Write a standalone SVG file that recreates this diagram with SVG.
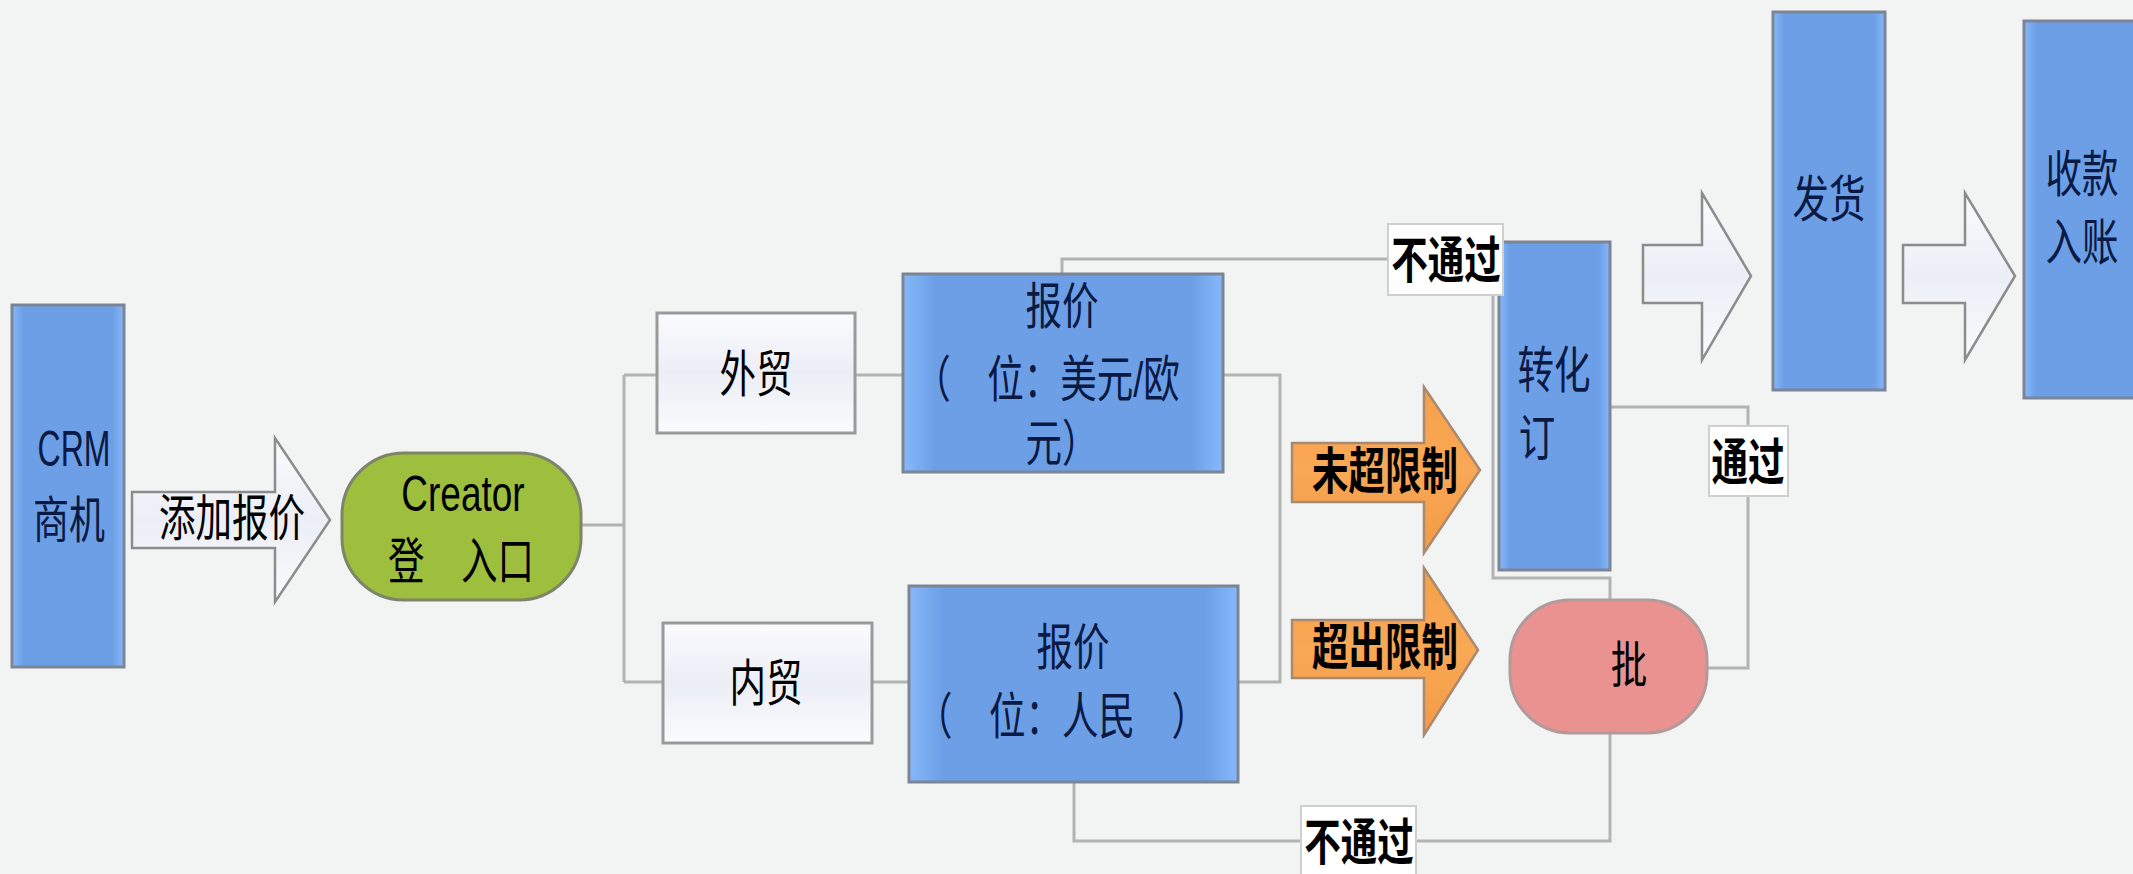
<svg xmlns="http://www.w3.org/2000/svg" width="2133" height="874" viewBox="0 0 2133 874">
<defs>
<linearGradient id="gBlue" x1="0" y1="0" x2="1" y2="0">
<stop offset="0" stop-color="#86b8fa"/><stop offset="0.1" stop-color="#6c9fe6"/><stop offset="0.9" stop-color="#6c9fe6"/><stop offset="1" stop-color="#86b8fa"/>
</linearGradient>
<linearGradient id="gWhite" x1="0" y1="0" x2="0" y2="1">
<stop offset="0" stop-color="#fbfbfe"/><stop offset="0.5" stop-color="#eceef6"/><stop offset="1" stop-color="#fafbfd"/>
</linearGradient>
<linearGradient id="gOrange" x1="0" y1="0" x2="0" y2="1">
<stop offset="0" stop-color="#f6a04a"/><stop offset="0.5" stop-color="#f9a856"/><stop offset="1" stop-color="#f39a45"/>
</linearGradient>
<style>
.bg{fill:#f2f3f3}
.conn{fill:none;stroke:#b3b3b3;stroke-width:3}
.blue{fill:url(#gBlue);stroke:#7c8596;stroke-width:3}
.wbox{fill:url(#gWhite);stroke:#9a9a9a;stroke-width:3}
.warrow{fill:url(#gWhite);stroke:#8c8c8c;stroke-width:2.5}
.oarrow{fill:url(#gOrange);stroke:#a98a70;stroke-width:2.5}
.green{fill:#9dbf3d;stroke:#7d8569;stroke-width:3}
.pink{fill:#e9928f;stroke:#b39a9a;stroke-width:3}
.lbl{fill:#ffffff;stroke:#cfcfcf;stroke-width:2}
.t{font-family:"Liberation Sans","Noto Sans CJK SC",sans-serif;font-size:50px;text-anchor:middle;dominant-baseline:central;fill:#000}
.tb{fill:#0b1a44}
.bold{font-weight:bold}
</style>
</defs>
<rect class="bg" x="0" y="0" width="2133" height="874"/>

<g id="connectors">
<path class="conn" d="M581,525 H624"/>
<path class="conn" d="M624,375 V682"/>
<path class="conn" d="M624,375 H657"/>
<path class="conn" d="M624,682 H663"/>
<path class="conn" d="M855,375 H903"/>
<path class="conn" d="M872,682 H909"/>
<path class="conn" d="M1223,375 H1280 V682 H1238"/>
<path class="conn" d="M1062,274 V259 H1493 V578 H1610 V600"/>
<path class="conn" d="M1610,407 H1748 V668 H1707"/>
<path class="conn" d="M1074,782 V841 H1610 V733"/>
</g>

<g id="crm">
<rect class="blue" x="12" y="305" width="112" height="362"/>
<text class="t tb" transform="translate(74,449) scale(0.64,1)">CRM</text>
<text class="t tb" transform="translate(69,521) scale(0.72,1)">商机</text>
</g>

<g id="add-quote">
<polygon class="warrow" points="132,492 275,492 275,438 330,520 275,602 275,548 132,548"/>
<text class="t" transform="translate(232,518) scale(0.73,1)">添加报价</text>
</g>

<g id="creator">
<rect class="green" x="342" y="453" width="239" height="147" rx="62" ry="62"/>
<text class="t" transform="translate(463,493) scale(0.74,1)">Creator</text>
<text class="t" transform="translate(461,561) scale(0.73,1)">登　入口</text>
</g>

<g id="foreign">
<rect class="wbox" x="657" y="313" width="198" height="120"/>
<text class="t" transform="translate(756,374) scale(0.73,1)">外贸</text>
</g>

<g id="domestic">
<rect class="wbox" x="663" y="623" width="209" height="120"/>
<text class="t" transform="translate(766,683) scale(0.73,1)">内贸</text>
</g>

<g id="quote-usd">
<rect class="blue" x="903" y="274" width="320" height="198"/>
<text class="t tb" transform="translate(1062,306) scale(0.73,1)">报价</text>
<text class="t tb" transform="translate(1047,379) scale(0.73,1)">（　位：美元/欧</text>
<text class="t tb" transform="translate(1062,443) scale(0.73,1)">元）</text>
</g>

<g id="quote-rmb">
<rect class="blue" x="909" y="586" width="329" height="196"/>
<text class="t tb" transform="translate(1073,647) scale(0.73,1)">报价</text>
<text class="t tb" transform="translate(1062,716) scale(0.73,1)">（　位：人民　）</text>
</g>

<g id="within-limit">
<polygon class="oarrow" points="1292,443 1424,443 1424,387 1480,470 1424,553 1424,502 1292,502"/>
<text class="t bold" transform="translate(1385,471) scale(0.73,1)">未超限制</text>
</g>

<g id="over-limit">
<polygon class="oarrow" points="1292,620 1424,620 1424,568 1478,650 1424,735 1424,678 1292,678"/>
<text class="t bold" transform="translate(1385,647) scale(0.73,1)">超出限制</text>
</g>

<g id="convert-order">
<rect class="blue" x="1499" y="242" width="111" height="328"/>
<text class="t tb" transform="translate(1554,370) scale(0.73,1)">转化</text>
<text class="t tb" transform="translate(1537,438) scale(0.73,1)">订</text>
</g>

<g id="approve">
<rect class="pink" x="1510" y="600" width="197" height="133" rx="60" ry="60"/>
<text class="t" transform="translate(1629,665) scale(0.73,1)">批</text>
</g>

<g id="label-reject-top">
<rect class="lbl" x="1388" y="224" width="115" height="71"/>
<text class="t bold" transform="translate(1446,260) scale(0.73,1)">不通过</text>
</g>

<g id="label-pass">
<rect class="lbl" x="1709" y="426" width="79" height="70"/>
<text class="t bold" transform="translate(1748,462) scale(0.73,1)">通过</text>
</g>

<g id="label-reject-bottom">
<rect class="lbl" x="1301" y="806" width="115" height="75"/>
<text class="t bold" transform="translate(1359,842) scale(0.73,1)">不通过</text>
</g>

<g id="arrow-ship">
<polygon class="warrow" points="1643,245 1702,245 1702,193 1751,276 1702,360 1702,303 1643,303"/>
</g>

<g id="ship">
<rect class="blue" x="1773" y="12" width="112" height="378"/>
<text class="t tb" transform="translate(1829,199) scale(0.73,1)">发货</text>
</g>

<g id="arrow-pay">
<polygon class="warrow" points="1903,245 1965,245 1965,193 2015,276 1965,360 1965,303 1903,303"/>
</g>

<g id="payment">
<rect class="blue" x="2024" y="21" width="124" height="377"/>
<text class="t tb" transform="translate(2082,174) scale(0.73,1)">收款</text>
<text class="t tb" transform="translate(2082,242) scale(0.73,1)">入账</text>
</g>
</svg>
